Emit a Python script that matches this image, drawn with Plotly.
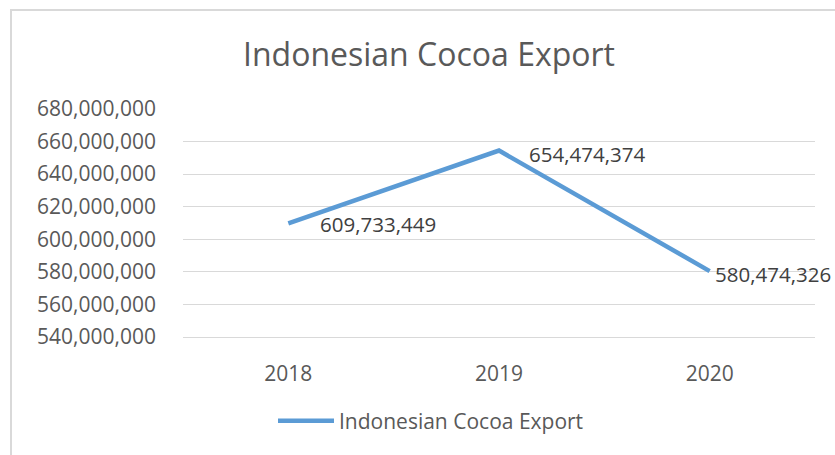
import plotly.graph_objects as go

years = ["2018", "2019", "2020"]
exports = [609733449, 654474374, 580474326]
series_name = "Indonesian Cocoa Export"
chart_title = "Indonesian Cocoa Export"
y_min, y_max, y_step = 540000000, 680000000, 20000000

# label style offsets (pixels)
label_xshift = [30, 28, 3]
label_yshift = [-1, -3, -3]

FONT = "Open Sans"
W, H = 835, 455
ML, MR, MT, MB = 183, 20, 109, 118

fig = go.Figure()
fig.add_trace(go.Scatter(
    x=years, y=exports, mode="lines", name=series_name,
    line=dict(color="#5B9BD5", width=4.5),
))

# category axis: numeric-looking names would be read as indices, so use index
for i, (v, dx, dy) in enumerate(zip(exports, label_xshift, label_yshift)):
    fig.add_annotation(
        x=i, y=v, text=f"{v:,}", showarrow=False,
        xanchor="left", yanchor="middle", xshift=dx, yshift=dy,
        font=dict(family=FONT, size=20.5, color="#404040"),
    )

pw, ph = W - ML - MR, H - MT - MB
fig.add_shape(
    type="rect", xref="paper", yref="paper",
    x0=(11 - ML) / pw, x1=(W + 20 - ML) / pw,
    y0=-(H + 20 - MT - ph) / ph, y1=1 + (MT - 10) / ph,
    line=dict(color="#D9D9D9", width=2), fillcolor="rgba(0,0,0,0)", layer="below",
)

fig.update_layout(
    width=W, height=H,
    margin=dict(l=ML, r=MR, t=MT, b=MB),
    paper_bgcolor="white", plot_bgcolor="white",
    title=dict(text=chart_title, x=429 / W, xref="container", xanchor="center",
               y=1 - 55 / H, yref="container", yanchor="middle",
               font=dict(family=FONT, size=32, color="#595959")),
    showlegend=True,
    legend=dict(orientation="h", xref="container", yref="container",
                x=431 / W, xanchor="center", y=1 - 421 / H, yanchor="middle",
                font=dict(family=FONT, size=21, color="#595959"),
                itemwidth=56),
    font=dict(family=FONT, color="#595959"),
)
fig.update_xaxes(
    type="category", range=[-0.5, 2.5], showgrid=False,
    showline=True, linecolor="#D9D9D9", linewidth=1.3,
    ticks="", ticklabelstandoff=18,
    tickfont=dict(family=FONT, size=21, color="#595959"),
)
fig.update_yaxes(
    range=[y_min, y_max], dtick=y_step, tick0=y_min, tickformat=",d",
    showgrid=True, gridcolor="#D9D9D9", gridwidth=1.3, zeroline=False,
    showline=False, ticks="", ticklabelstandoff=26,
    tickfont=dict(family=FONT, size=21, color="#595959"),
)

fig.write_html("out.html")
